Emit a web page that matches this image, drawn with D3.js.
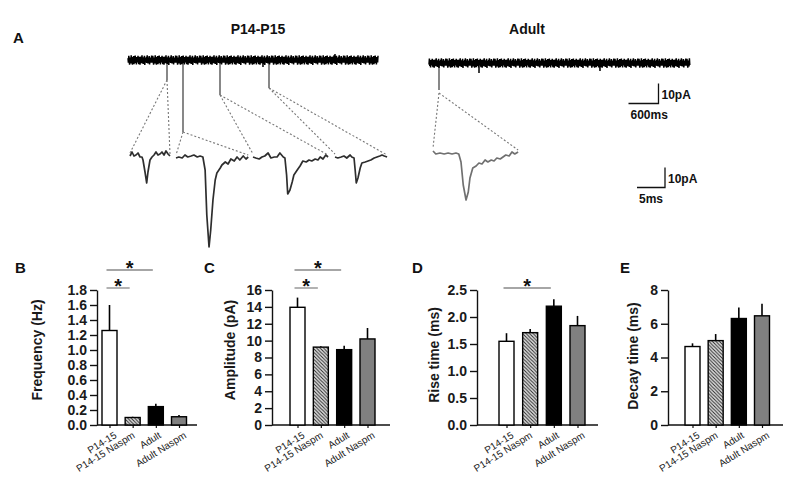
<!DOCTYPE html>
<html>
<head>
<meta charset="utf-8">
<script src="https://cdn.jsdelivr.net/npm/d3@7"></script>
<style>
  html, body { margin: 0; padding: 0; background: #fff; }
  svg { display: block; font-family: "Liberation Sans", Arial, sans-serif; }
</style>
</head>
<body>
<svg id="fig" width="800" height="498"></svg>
<script>
// ---------- data ----------
const groups = ["P14-15", "P14-15 Naspm", "Adult", "Adult Naspm"];

const freqMean = [1.26, 0.10, 0.245, 0.11];
const freqErr = [0.34, 0.01, 0.04, 0.025];
const ampMean = [13.95, 9.23, 8.93, 10.2];
const ampErr = [1.15, 0.1, 0.45, 1.3];
const riseMean = [1.55, 1.71, 2.2, 1.84];
const riseErr = [0.15, 0.07, 0.13, 0.18];
const decayMean = [4.65, 5.0, 6.31, 6.47];
const decayErr = [0.19, 0.39, 0.65, 0.72];

const freqTicks = [0, 0.2, 0.4, 0.6, 0.8, 1.0, 1.2, 1.4, 1.6, 1.8];
const ampTicks = [0, 2, 4, 6, 8, 10, 12, 14, 16];
const riseTicks = [0, 0.5, 1.0, 1.5, 2.0, 2.5];
const decayTicks = [0, 2, 4, 6, 8];

// significance pairs (group index a, group index b)
const freqSig = [[0, 1], [0, 2]];
const ampSig = [[0, 1], [0, 2]];
const riseSig = [[0, 2]];
const decaySig = [];

// raw recordings (ms, pA): baseline noise and events
const baselineNoise = [0.9,-1.4,2.1,-0.5,-2.3,1.2,0.3,-1.7,2.4,-1.0,0.6,-2.4,1.5,-0.1,2.0,-2.1,1.0,-0.8,2.2,-1.5,
  0.1,-2.2,1.5,0.8,-1.2,2.1,-0.8,-2.1,0.5,1.6,-2.4,0.8,-0.3,1.7,-1.6,2.3,-0.9,0.3,-2.0,1.4,
  -0.6,2.1,-2.5,1.0,-1.2,0.3,1.6,-1.5,2.4,-0.1,-1.7,1.2,-0.9,2.0,-2.2,0.8,-0.5,1.2,-1.4,2.2];
const p14Duration = 5000;
const p14EventTimes = [780, 1100, 1840, 2820];
const p14EventAmps = [10, 36, 17.5, 14];
const p14SmallTimes = [2700, 4140];
const p14SmallAmps = [3.5, -3];
const adultDuration = 5220;
const adultEventTimes = [200];
const adultEventAmps = [13.5];
const adultSmallTimes = [1000, 3420];
const adultSmallAmps = [5, 4];

// expanded single events [ms, pA]
const mini1 = [[0,0.5],[0.36,2.5],[0.71,0.5],[1.07,1],[1.43,2],[1.79,0],[2.14,0],[2.32,-1.5],[2.68,-7.5],[2.98,-13],
  [3.21,-7.5],[3.57,-1.5],[3.93,0],[4.29,1],[4.64,2.5],[5,1],[5.36,1.5],[5.71,2.5],[6.07,1],[6.43,3],[6.79,1.5],[7.14,0.5]];
const mini2 = [[0,0],[0.5,0.5],[1.1,0],[1.6,1.5],[2.1,0.5],[2.7,1],[3.2,1.5],[3.8,0.5],[4.3,1],[4.8,0.5],[5.2,-6],
  [5.5,-28.5],[5.9,-44.5],[6.2,-36],[6.6,-21],[7,-11],[7.3,-7.5],[7.9,-5],[8.2,-3.5],[8.8,-2],[9.3,-3],[9.8,-0.5],
  [10.4,-1.5],[10.9,0.5],[11.4,-1],[12,1],[12.5,-0.5],[12.9,0.5]];
const mini3 = [[0,0],[0.5,-0.5],[1.1,-1],[1.6,0],[2.1,0.5],[2.7,2],[3.2,-0.5],[3.8,0],[4.3,0],[4.8,2],[5.4,0],[5.7,-0.5],
  [6,-9],[6.2,-18.5],[6.6,-16.5],[7,-12.5],[7.3,-9],[7.9,-6.5],[8.4,-4.5],[8.9,-2],[9.5,-2.5],[10,-1.5],[10.5,-2],
  [11.1,-1],[11.6,-1.5],[12,0],[12.5,-1],[13,1],[13.4,0]];
const mini4 = [[0,0],[0.5,-0.5],[1.1,0],[1.6,0.5],[2.1,-0.5],[2.7,1],[3,0],[3.4,-0.5],[3.6,-6.5],[3.8,-13],[4.1,-10.5],
  [4.5,-5.5],[4.8,-3],[5.4,-2.5],[5.9,-2],[6.4,-1.5],[7,-0.5],[7.5,0],[8,0.5],[8.4,1],[8.8,0.5],[9.3,0]];
const miniAdult = [[0,1],[0.5,-0.5],[1.25,0],[2,-0.5],[2.7,0],[3.4,-0.5],[4.1,0],[4.6,-0.5],[5,-4.5],[5.4,-16],[5.9,-23.5],
  [6.3,-19.5],[6.6,-12.5],[7.1,-7.5],[7.7,-6.5],[8.2,-5],[8.75,-5.5],[9.3,-3.5],[9.8,-4.5],[10.4,-3.5],[10.9,-4],
  [11.4,-2.5],[12,-3],[12.5,-2],[13,-1],[13.6,-1.5],[14.1,0.5],[14.6,-0.5],[15.2,0.5]];

// ---------- drawing ----------
const svg = d3.select("#fig");
const textColor = "#111";
const fontStack = "'Liberation Sans', Arial, sans-serif";

// hatch pattern for Naspm bars
const defs = svg.append("defs");
const hatch = defs.append("pattern")
  .attr("id", "hatch")
  .attr("patternUnits", "userSpaceOnUse")
  .attr("width", 3.5)
  .attr("height", 3.5);
hatch.append("rect").attr("width", 3.5).attr("height", 3.5).attr("fill", "#e0e0e0");
hatch.append("path")
  .attr("d", "M-1,-1 L4.5,4.5 M-1,2.5 L1,4.5 M2.5,-1 L4.5,1")
  .attr("stroke", "#2a2a2a")
  .attr("stroke-width", 1);

const barFills = ["#fff", "url(#hatch)", "#000", "#808080"];

// ---- panel A ----
const g = svg.append("g");

g.append("text").attr("x", 13).attr("y", 43)
  .attr("font-size", 15).attr("font-weight", "bold").attr("fill", textColor).text("A");
g.append("text").attr("x", 258).attr("y", 34).attr("text-anchor", "middle")
  .attr("font-size", 14).attr("font-weight", "bold").attr("fill", textColor).text("P14-P15");
g.append("text").attr("x", 527).attr("y", 34).attr("text-anchor", "middle")
  .attr("font-size", 14).attr("font-weight", "bold").attr("fill", textColor).text("Adult");

const rawPxPerMs = 30 / 600;
const rawPxPerPa = 2;
const miniPxPerMs = 5.6;

const buildRaw = (duration, offset, smT, smA) => {
  const pts = [];
  for (let t = 0, i = 0; t <= duration; t += 8, i++) {
    pts.push([t, baselineNoise[(i + offset) % baselineNoise.length]]);
  }
  smT.forEach((t, k) => {
    pts.push([t + 0.1, -smA[k]]);
    pts.push([t + 0.2, 0]);
  });
  return pts.sort((a, b) => a[0] - b[0]);
};

const drawRaw = (x0, yBase, duration, offset, evT, evA, smT, smA) => {
  const x = d3.scaleLinear().domain([0, duration]).range([x0, x0 + duration * rawPxPerMs]);
  const y = d3.scaleLinear().domain([0, -10]).range([yBase, yBase + 10 * rawPxPerPa]);
  // event deflections
  g.selectAll(null)
    .data(evT)
    .enter()
    .append("line")
    .attr("x1", (d) => x(d)).attr("x2", (d) => x(d))
    .attr("y1", y(0))
    .attr("y2", (d, i) => y(-evA[i]))
    .attr("stroke", "#555")
    .attr("stroke-width", 1.4);
  g.append("path")
    .datum(buildRaw(duration, offset, smT, smA))
    .attr("d", d3.line().x((d) => x(d[0])).y((d) => y(d[1])))
    .attr("fill", "none")
    .attr("stroke", "#000")
    .attr("stroke-width", 1.5);
  return { x, y };
};

const drawMini = (data, x0, yBase, color) => {
  const x = d3.scaleLinear().domain([0, 1]).range([x0, x0 + miniPxPerMs]);
  const y = d3.scaleLinear().domain([0, -10]).range([yBase, yBase + 10 * rawPxPerPa]);
  g.append("path")
    .datum(data)
    .attr("d", d3.line().x((d) => x(d[0])).y((d) => y(d[1])))
    .attr("fill", "none")
    .attr("stroke", color)
    .attr("stroke-width", 1.7)
    .attr("stroke-linejoin", "round");
  const first = data[0], last = data[data.length - 1];
  return { start: [x(first[0]), y(first[1])], end: [x(last[0]), y(last[1])] };
};

const connect = (from, to) => {
  g.append("line")
    .attr("x1", from[0]).attr("y1", from[1])
    .attr("x2", to[0]).attr("y2", to[1])
    .attr("stroke", "#777")
    .attr("stroke-width", 1.1)
    .attr("stroke-dasharray", "2,2");
};

const p14 = drawRaw(128, 60, p14Duration, 0, p14EventTimes, p14EventAmps, p14SmallTimes, p14SmallAmps);
const adult = drawRaw(429, 63, adultDuration, 17, adultEventTimes, adultEventAmps, adultSmallTimes, adultSmallAmps);

const p14Minis = [mini1, mini2, mini3, mini4];
const miniX0 = [130, 176, 253, 335];
const miniBase = [157, 158, 157, 157];
p14Minis.forEach((m, i) => {
  const ends = drawMini(m, miniX0[i], miniBase[i], "#2e2e2e");
  const tip = [p14.x(p14EventTimes[i]), p14.y(-p14EventAmps[i])];
  connect(tip, [ends.start[0], ends.start[1] - 3]);
  connect(tip, [ends.end[0], ends.end[1] - 2]);
});
const adultEnds = drawMini(miniAdult, 433, 153, "#707070");
const adultTip = [adult.x(adultEventTimes[0]), adult.y(-adultEventAmps[0]) + 3];
connect(adultTip, [adultEnds.start[0], adultEnds.start[1] - 3]);
connect(adultTip, [adultEnds.end[0], adultEnds.end[1] - 2]);

// scale bars
const scaleBar = (xRight, yBottom, wPx, hPx, vLabel, hLabel) => {
  g.append("path")
    .attr("d", `M${xRight - wPx},${yBottom} H${xRight} V${yBottom - hPx}`)
    .attr("fill", "none")
    .attr("stroke", "#111")
    .attr("stroke-width", 1.3);
  g.append("text").attr("x", xRight + 3).attr("y", yBottom - 5)
    .attr("font-size", 12).attr("font-weight", "bold").attr("fill", textColor).text(vLabel);
  g.append("text").attr("x", xRight - wPx + 2).attr("y", yBottom + 15)
    .attr("font-size", 12).attr("font-weight", "bold").attr("fill", textColor).text(hLabel);
};
scaleBar(658.5, 103.5, 600 * rawPxPerMs, 10 * rawPxPerPa, "10pA", "600ms");
scaleBar(665, 187.5, 5 * miniPxPerMs, 10 * rawPxPerPa, "10pA", "5ms");

// ---- bar panels B-E ----
const y0 = 425;
const yTopPx = 290;
const labelShift = [8, 3, 6, 8];

const panels = [
  { letter: "B", mean: freqMean, err: freqErr, ticks: freqTicks, fmt: ".1f", title: "Frequency (Hz)", sig: freqSig,
    axisX: 97, first: 109.5, last: 179, xEnd: 197, titleX: 42, titleY: 350, letterX: 15 },
  { letter: "C", mean: ampMean, err: ampErr, ticks: ampTicks, fmt: "d", title: "Amplitude (pA)", sig: ampSig,
    axisX: 272, first: 297.5, last: 367.5, xEnd: 390, titleX: 235, titleY: 350, letterX: 204 },
  { letter: "D", mean: riseMean, err: riseErr, ticks: riseTicks, fmt: ".1f", title: "Rise time (ms)", sig: riseSig,
    axisX: 477, first: 506.5, last: 577.5, xEnd: 598, titleX: 439, titleY: 355, letterX: 412 },
  { letter: "E", mean: decayMean, err: decayErr, ticks: decayTicks, fmt: "d", title: "Decay time (ms)", sig: decaySig,
    axisX: 668, first: 692.5, last: 762, xEnd: 783, titleX: 638, titleY: 356, letterX: 620 },
];

const barW = 15;

panels.forEach((p) => {
  const pg = svg.append("g");
  const x = d3.scalePoint().domain(groups).range([p.first, p.last]);
  const y = d3.scaleLinear().domain([0, d3.max(p.ticks)]).range([y0, yTopPx]);

  pg.append("text").attr("x", p.letterX).attr("y", 273)
    .attr("font-size", 15).attr("font-weight", "bold").attr("fill", textColor).text(p.letter);

  // y axis
  const yAxis = pg.append("g")
    .attr("transform", `translate(${p.axisX},0)`)
    .call(d3.axisLeft(y).tickValues(p.ticks).tickFormat(d3.format(p.fmt)).tickSize(7).tickSizeOuter(0).tickPadding(3));
  yAxis.select(".domain").attr("stroke", "#111").attr("stroke-width", 1.4);
  yAxis.selectAll(".tick line").attr("stroke", "#111").attr("stroke-width", 1.4);
  yAxis.selectAll(".tick text")
    .attr("font-size", 14)
    .attr("font-weight", "bold")
    .attr("font-family", fontStack)
    .attr("fill", "#1a1a1a");

  pg.append("text")
    .attr("transform", `translate(${p.titleX},${p.titleY}) rotate(-90)`)
    .attr("text-anchor", "middle")
    .attr("font-size", 14)
    .attr("font-weight", "bold")
    .attr("fill", "#1a1a1a")
    .text(p.title);

  // x axis
  pg.append("line")
    .attr("x1", p.axisX).attr("x2", p.xEnd)
    .attr("y1", y0).attr("y2", y0)
    .attr("stroke", "#111").attr("stroke-width", 1.4);
  const xAxis = pg.append("g")
    .attr("transform", `translate(0,${y0})`)
    .call(d3.axisBottom(x).tickSize(3).tickFormat(""));
  xAxis.select(".domain").remove();
  xAxis.selectAll(".tick line").attr("stroke", "#111").attr("stroke-width", 1.2);

  groups.forEach((grp, i) => {
    pg.append("text")
      .attr("transform", `translate(${x(grp) + labelShift[i]},${y0 + 12}) rotate(-32)`)
      .attr("text-anchor", "end")
      .attr("font-size", 10)
      .attr("fill", "#1a1a1a")
      .text(grp);
  });

  // error bars (upper only)
  pg.selectAll(".err")
    .data(groups)
    .enter()
    .append("line")
    .attr("x1", (d) => x(d)).attr("x2", (d) => x(d))
    .attr("y1", (d, i) => y(p.mean[i]))
    .attr("y2", (d, i) => y(p.mean[i] + p.err[i]))
    .attr("stroke", "#000")
    .attr("stroke-width", 1.6);

  // bars
  pg.selectAll(".bar")
    .data(groups)
    .enter()
    .append("rect")
    .attr("x", (d) => x(d) - barW / 2)
    .attr("width", barW)
    .attr("y", (d, i) => y(p.mean[i]))
    .attr("height", (d, i) => y0 - y(p.mean[i]))
    .attr("fill", (d, i) => barFills[i])
    .attr("stroke", "#000")
    .attr("stroke-width", 1.4);

  // significance markers
  p.sig.forEach(([a, b], level) => {
    const ly = yTopPx - 2 - level * 18;
    const xa = x(groups[a]) - 3, xb = x(groups[b]) - 3;
    pg.append("line")
      .attr("x1", xa).attr("x2", xb)
      .attr("y1", ly).attr("y2", ly)
      .attr("stroke", "#888").attr("stroke-width", 1.3);
    pg.append("text")
      .attr("x", (xa + xb) / 2).attr("y", ly + 5)
      .attr("text-anchor", "middle")
      .attr("font-size", 20)
      .attr("font-weight", "bold")
      .attr("fill", textColor)
      .text("*");
  });
});
</script>
</body>
</html>
